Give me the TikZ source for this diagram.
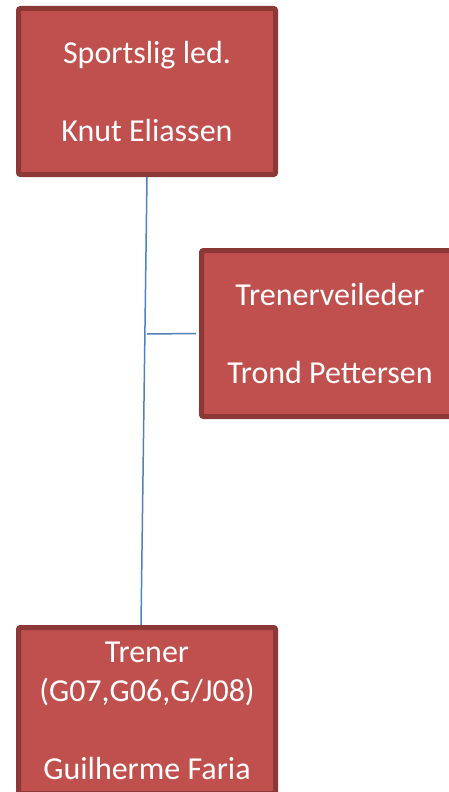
\documentclass[tikz,border=0pt]{standalone}
\usepackage{fontspec}
\setmainfont{Carlito}
\usepackage{tikz}
\usetikzlibrary{positioning, calc}
\definecolor{OrgRed}{RGB}{192,80,77}
\definecolor{OrgRedDark}{RGB}{140,56,54}
\definecolor{OrgBlue}{RGB}{79,129,189}
\tikzset{
    orgbox/.style={rectangle, rounded corners=2pt, draw=OrgRedDark, fill=OrgRed,
        line width=5pt, minimum width=257pt, minimum height=166pt,
        text=white, align=center, font=\fontsize{32}{39}\selectfont},
    orgline/.style={draw=OrgBlue, line width=1.5pt},
}
\begin{document}
\begin{tikzpicture}[x=1pt, y=-1pt]
    \useasboundingbox (0,0) rectangle (448,792);
    \node[orgbox] (sportslig) at (147,91.5) {Sportslig led.\\[39pt]Knut Eliassen};
    \node[orgbox] (veileder) at (330,333.5) {Trenerveileder\\[39pt]Trond Pettersen};
    \node[orgbox] (trener) at (147,710.5) {Trener\\(G07,G06,G/J08)\\[39pt]Guilherme Faria};
    \coordinate (gren) at (147,334);
    \draw[orgline] (sportslig.south) -- ([xshift=-6pt]trener.north);
    \draw[orgline] (gren) -- ([xshift=-3pt]veileder.west);
\end{tikzpicture}
\end{document}
